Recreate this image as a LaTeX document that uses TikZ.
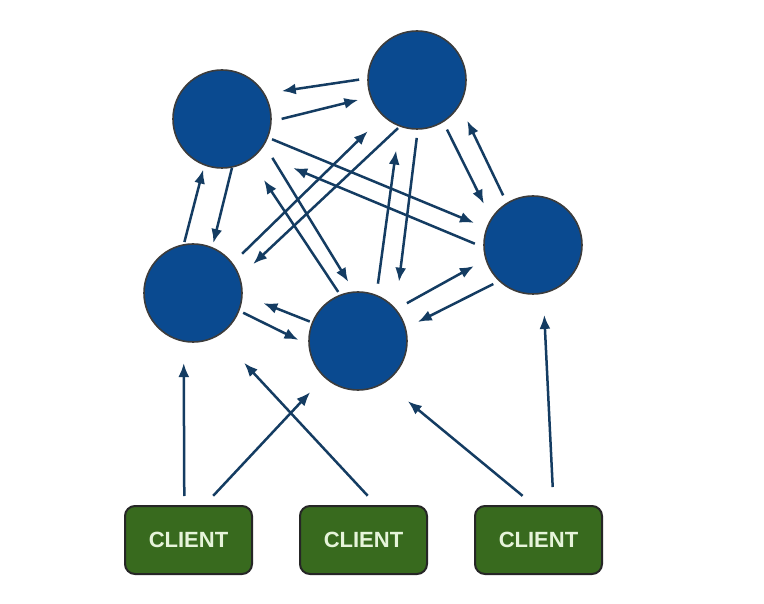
\documentclass[tikz,border=0pt]{standalone}
\usepackage{fontspec}
\setmainfont{Liberation Sans}
\usetikzlibrary{arrows.meta}

\definecolor{serverblue}{HTML}{0A4A90}
\definecolor{servergray}{HTML}{3C3C3C}
\definecolor{linkblue}{HTML}{143C62}
\definecolor{clientgreen}{HTML}{386A1E}
\definecolor{clienttext}{HTML}{E6F4DA}

\tikzset{
	server/.style={circle, fill=serverblue, draw=servergray, line width=1.6pt,
		minimum size=98pt, inner sep=0pt, outer sep=0pt},
	client/.style={rectangle, rounded corners=10pt, fill=clientgreen, draw=black!85,
		line width=2pt, minimum width=127pt, minimum height=68pt, outer sep=0pt,
		text=clienttext, font=\fontsize{22}{26}\selectfont\bfseries},
	link/.style={draw=linkblue, line width=2.5pt, -{Latex[length=14pt,width=11pt]}}
}

\begin{document}
\begin{tikzpicture}[x=1pt,y=-1pt]
	% Frame of the picture
	\useasboundingbox[fill=white] (0,0) rectangle (764,604);

	% Servers
	\node[server] (A) at (222,119) {};
	\node[server] (B) at (417,80) {};
	\node[server] (C) at (193,293) {};
	\node[server] (D) at (358,341) {};
	\node[server] (E) at (533,245) {};

	% Clients
	\node[client] (cl1) at (188.5,540) {CLIENT};
	\node[client] (cl2) at (363.5,540) {CLIENT};
	\node[client] (cl3) at (538.5,540) {CLIENT};

	% Links between servers
	\draw[link, shorten <=9pt, shorten >=18pt] (B.178) -- (A.31);
	\draw[link, shorten <=11pt, shorten >=13pt] (A.-3) -- (B.200);
	\draw[link, shorten <=3pt, shorten >=5pt] (C.101) -- (A.249);
	\draw[link, shorten <=1pt, shorten >=5pt] (A.282) -- (C.67);
	\draw[link, shorten <=5pt, shorten >=14pt] (A.-22) -- (E.160);
	\draw[link, shorten <=10pt, shorten >=39pt] (E.183) -- (A.-44);
	\draw[link, shorten <=16pt, shorten >=12pt] (A.-31) -- (D.94);
	\draw[link, shorten <=4pt, shorten >=25pt] (D.111) -- (A.-55);
	\draw[link, shorten <=14pt, shorten >=22pt] (C.37) -- (B.227);
	\draw[link, shorten <=3pt, shorten >=19pt] (B.250) -- (C.19);
	\draw[link, shorten <=12pt, shorten >=25pt] (D.68) -- (B.249);
	\draw[link, shorten <=9pt, shorten >=28pt] (B.271) -- (D.40);
	\draw[link, shorten <=9pt, shorten >=17pt] (B.-58) -- (E.148);
	\draw[link, shorten <=9pt, shorten >=18pt] (E.122) -- (B.-30);
	\draw[link, shorten <=3pt, shorten >=23pt] (D.158) -- (C.-2);
	\draw[link, shorten <=5pt, shorten >=12pt] (C.-21) -- (D.185);
	\draw[link, shorten <=13pt, shorten >=14pt] (D.40) -- (E.197);
	\draw[link, shorten <=7pt, shorten >=14pt] (E.227) -- (D.15);

	% Links from clients
	\draw[link, shorten <=10pt, shorten >=22pt] (cl1.97) -- (C.259);
	\draw[link, shorten <=14pt, shorten >=21pt] (cl1.66) -- (D.227);
	\draw[link, shorten <=14pt, shorten >=38pt] (cl2.68) -- (C.-59);
	\draw[link, shorten <=16pt, shorten >=30pt] (cl3.96) -- (D.-57);
	\draw[link, shorten <=19pt, shorten >=22pt] (cl3.66) -- (E.-78);
\end{tikzpicture}
\end{document}
